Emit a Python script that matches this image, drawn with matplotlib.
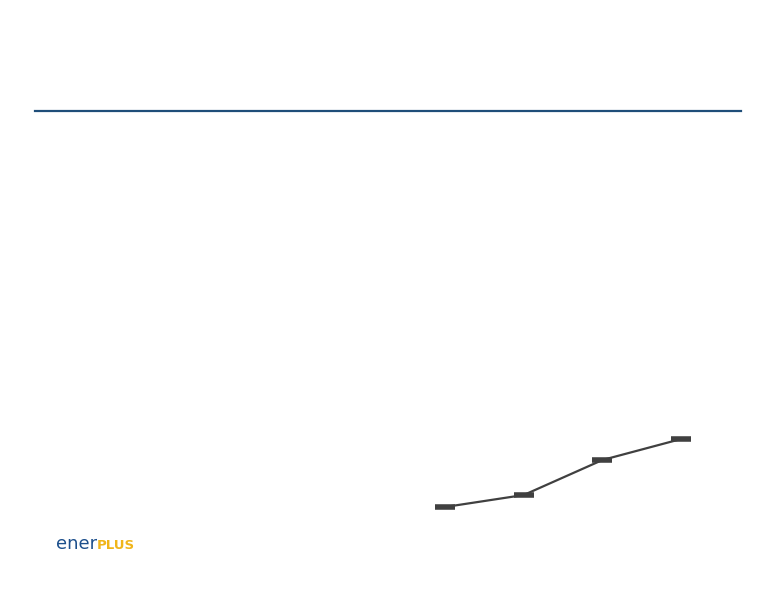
import matplotlib.pyplot as plt

# data
periods = ['P1', 'P2', 'P3', 'P4']
values = [100, 112, 147, 168]

W, H = 776, 600
fig = plt.figure(figsize=(W / 100, H / 100), dpi=100)
fig.patch.set_facecolor('white')

# header rule
fig.add_artist(plt.Line2D([35 / W, 741 / W], [1 - 111 / H, 1 - 111 / H],
                          color='#1f4e79', lw=1.6))

# line chart, axes placed in pixel terms
left, right, top, bottom = 405.7, 720.5, 400, 540
ax = fig.add_axes([left / W, 1 - bottom / H, (right - left) / W, (bottom - top) / H])
ax.plot(range(len(periods)), values, color='#404040', lw=1.6,
        marker='_', ms=14.5, mew=4.0)
ax.set_xlim(-0.5, 3.5)
ax.set_ylim(67, 207)
ax.axis('off')

# logo
base = 1 - 549 / H
t = fig.text(56 / W, base, 'ener', color='#1c4f8c', fontsize=13,
             va='baseline', ha='left', family='DejaVu Sans')
fig.canvas.draw()
bb = t.get_window_extent()
fig.text(bb.x1 / W, base, 'PLUS', color='#f0b51a', fontsize=9.5,
         fontweight='bold', va='baseline', ha='left', family='DejaVu Sans')

fig.savefig('out.png', dpi=100)
